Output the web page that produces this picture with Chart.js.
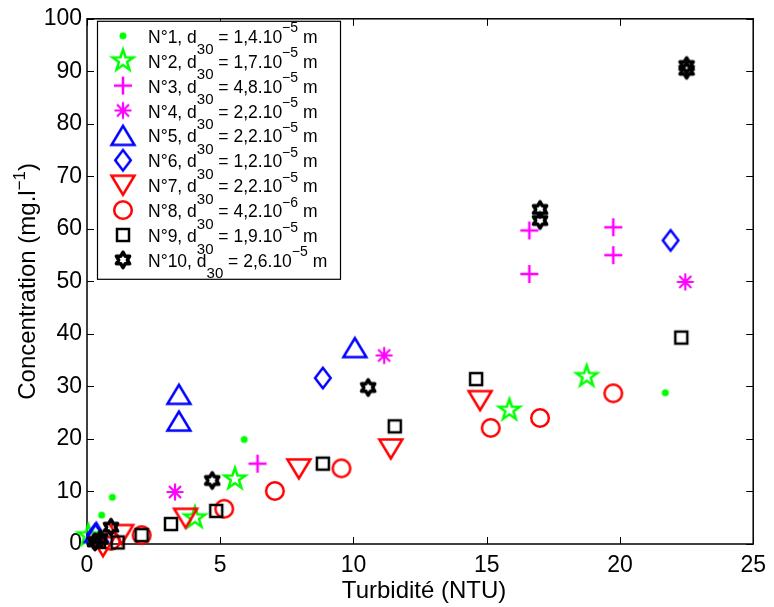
<!DOCTYPE html>
<html><head><meta charset="utf-8">
<script src="https://cdn.jsdelivr.net/npm/chart.js@4.4.0/dist/chart.umd.min.js"></script>
<style>html,body{margin:0;padding:0;background:#fff;}canvas{display:block;}</style>
</head><body>
<canvas id="c" width="774" height="607"></canvas>
<script>
// ---- data ----
const seriesNames = ['N°1','N°2','N°3','N°4','N°5','N°6','N°7','N°8','N°9','N°10'];
const d30Mantissa = ['1,4','1,7','4,8','2,2','2,2','1,2','2,2','4,2','1,9','2,6'];
const d30Exponent = ['−5','−5','−5','−5','−5','−5','−5','−6','−5','−5'];

const n1X = [21.7, 5.9, 0.95, 0.55];
const n1Y = [28.8, 19.9, 8.9, 5.5];
const n2X = [18.75, 15.85, 5.55, 4.05, 0.05];
const n2Y = [31.9, 25.5, 12.4, 5.0, 1.6];
const n3X = [16.6, 16.6, 19.75, 19.75, 6.4];
const n3Y = [59.7, 51.4, 60.3, 55.0, 15.3];
const n4X = [22.45, 11.15, 3.3];
const n4Y = [49.9, 35.9, 9.9];
const n5X = [10.05, 3.45, 3.45, 0.35];
const n5Y = [37.4, 28.5, 23.4, 2.2];
const n6X = [21.9, 8.85, 0.3];
const n6Y = [57.8, 31.6, 1.8];
const n7X = [14.75, 11.4, 7.95, 3.7, 1.3, 0.6];
const n7Y = [27.3, 18.1, 14.3, 4.9, 1.8, -0.5];
const n8X = [19.75, 17.0, 15.15, 9.55, 7.05, 5.15, 2.05, 0.9];
const n8Y = [28.7, 24.0, 22.1, 14.4, 10.1, 6.7, 1.7, 0.6];
const n9X = [22.3, 14.6, 11.55, 8.85, 4.85, 3.15, 2.05, 1.15, 0.45];
const n9Y = [39.3, 31.4, 22.4, 15.3, 6.3, 3.8, 1.7, 0.3, 0.4];
const n10X = [22.5, 22.5, 17.0, 17.0, 10.55, 4.7, 0.9, 0.5, 0.3];
const n10Y = [91.1, 90.2, 63.7, 61.6, 29.8, 12.1, 3.2, 1.0, 0.4];

const xTicks = [0, 5, 10, 15, 20, 25];
const yTicks = [0, 10, 20, 30, 40, 50, 60, 70, 80, 90, 100];
const xTitle = 'Turbidité (NTU)';
const yTitleMain = 'Concentration (mg.l';
const yTitleSup = '−1';
const yTitleEnd = ')';

// ---- markers ----
function mk(size, draw) {
  const c = document.createElement('canvas');
  c.width = size; c.height = size;
  const g = c.getContext('2d');
  g.translate(size / 2, size / 2);
  draw(g);
  return c;
}
function starPath(g, n, R, r, a0) {
  g.beginPath();
  for (let i = 0; i < 2 * n; i++) {
    const rad = i % 2 === 0 ? R : r;
    const a = a0 + i * Math.PI / n;
    const px = rad * Math.cos(a), py = rad * Math.sin(a);
    if (i === 0) g.moveTo(px, py); else g.lineTo(px, py);
  }
  g.closePath();
}
function poly(g, pts) {
  g.beginPath();
  pts.forEach((p, i) => i ? g.lineTo(p[0], p[1]) : g.moveTo(p[0], p[1]));
  g.closePath();
}
const GREEN = '#00ff00', MAG = '#ff00ff', BLUE = '#0000ff', RED = '#ff0000', BLACK = '#000000';
const markers = [
  mk(10, g => { g.fillStyle = GREEN; g.beginPath(); g.arc(0, 0, 3.5, 0, Math.PI * 2); g.fill(); }),
  mk(30, g => { g.strokeStyle = GREEN; g.lineWidth = 2.5; starPath(g, 5, 11, 4.3, -Math.PI / 2); g.stroke(); }),
  mk(24, g => { g.strokeStyle = MAG; g.lineWidth = 2.5; g.beginPath(); g.moveTo(-9, 0); g.lineTo(9, 0); g.moveTo(0, -9); g.lineTo(0, 9); g.stroke(); }),
  mk(24, g => { g.strokeStyle = MAG; g.lineWidth = 2.2; g.beginPath();
    for (let k = 0; k < 4; k++) { const a = k * Math.PI / 4; g.moveTo(-8.5 * Math.cos(a), -8.5 * Math.sin(a)); g.lineTo(8.5 * Math.cos(a), 8.5 * Math.sin(a)); }
    g.stroke(); }),
  mk(30, g => { g.strokeStyle = BLUE; g.lineWidth = 2.5; g.lineJoin = 'miter'; poly(g, [[0, -9.5], [11.5, 9.5], [-11.5, 9.5]]); g.stroke(); }),
  mk(28, g => { g.strokeStyle = BLUE; g.lineWidth = 2.5; poly(g, [[0, -10.3], [7.8, 0], [0, 10.3], [-7.8, 0]]); g.stroke(); }),
  mk(30, g => { g.strokeStyle = RED; g.lineWidth = 2.5; poly(g, [[-11.5, -9.5], [11.5, -9.5], [0, 9.5]]); g.stroke(); }),
  mk(26, g => { g.strokeStyle = RED; g.lineWidth = 2.5; g.beginPath(); g.arc(0, 0, 8.8, 0, Math.PI * 2); g.stroke(); }),
  mk(20, g => { g.strokeStyle = BLACK; g.lineWidth = 2.5; g.strokeRect(-6, -6, 12, 12); }),
  mk(24, g => { g.strokeStyle = BLACK; g.lineWidth = 3.6; g.lineJoin = 'round'; starPath(g, 6, 7.6, 7.6 / Math.sqrt(3), -Math.PI / 2); g.stroke(); })
];

const xs = [n1X, n2X, n3X, n4X, n5X, n6X, n7X, n8X, n9X, n10X];
const ys = [n1Y, n2Y, n3Y, n4Y, n5Y, n6Y, n7Y, n8Y, n9Y, n10Y];

const datasets = seriesNames.map((name, i) => ({
  label: name,
  data: xs[i].map((x, j) => ({ x: x, y: ys[i][j] })),
  pointStyle: markers[i],
  pointRadius: 8,
  showLine: false,
  clip: false,
  order: seriesNames.length - i
}));

const FONT = '"Liberation Sans", Arial, Helvetica, sans-serif';

function richText(ctx, x, y, parts) {
  let cx = x;
  parts.forEach(p => {
    ctx.font = p.size + 'px ' + FONT;
    ctx.fillText(p.t, cx, y + (p.dy || 0));
    cx += ctx.measureText(p.t).width;
  });
  return cx - x;
}
function richWidth(ctx, parts) {
  let w = 0;
  parts.forEach(p => { ctx.font = p.size + 'px ' + FONT; w += ctx.measureText(p.t).width; });
  return w;
}

const framePlugin = {
  id: 'frame',
  beforeDatasetsDraw(chart) {
    const { ctx, chartArea: a, scales } = chart;
    ctx.save();
    ctx.strokeStyle = '#000';
    ctx.lineWidth = 1.5;
    ctx.strokeRect(a.left, a.top, a.right - a.left, a.bottom - a.top);
    ctx.lineWidth = 1;
    ctx.beginPath();
    const tl = 7;
    xTicks.forEach(v => {
      const px = Math.round(scales.x.getPixelForValue(v)) + 0.5;
      ctx.moveTo(px, a.bottom); ctx.lineTo(px, a.bottom - tl);
      ctx.moveTo(px, a.top); ctx.lineTo(px, a.top + tl);
    });
    yTicks.forEach(v => {
      const py = Math.round(scales.y.getPixelForValue(v)) + 0.5;
      ctx.moveTo(a.left, py); ctx.lineTo(a.left + tl, py);
      ctx.moveTo(a.right, py); ctx.lineTo(a.right - tl, py);
    });
    ctx.stroke();
    ctx.restore();
  },
  afterDraw(chart) {
    const { ctx, chartArea: a } = chart;
    ctx.save();
    ctx.fillStyle = '#000';
    ctx.textBaseline = 'alphabetic';
    // x title
    ctx.font = '24px ' + FONT;
    ctx.textAlign = 'center';
    ctx.fillText(xTitle, (a.left + a.right) / 2 + 4, 598);
    // y title
    ctx.textAlign = 'left';
    const yParts = [
      { t: yTitleMain, size: 24 },
      { t: yTitleSup, size: 17, dy: -10 },
      { t: yTitleEnd, size: 24 }
    ];
    const w = richWidth(ctx, yParts);
    ctx.translate(35, (a.top + a.bottom) / 2);
    ctx.rotate(-Math.PI / 2);
    richText(ctx, -w / 2, 0, yParts);
    ctx.restore();

    // legend
    ctx.save();
    const bl = a.left + 10, bt = a.top + 2, bw = 243, bh = 258;
    ctx.fillStyle = '#fff';
    ctx.fillRect(bl, bt, bw, bh);
    ctx.strokeStyle = '#000';
    ctx.lineWidth = 1.2;
    ctx.strokeRect(bl + 0.5, bt + 0.5, bw, bh);
    ctx.fillStyle = '#000';
    ctx.textAlign = 'left';
    ctx.textBaseline = 'alphabetic';
    seriesNames.forEach((name, i) => {
      const cy = bt + 15 + i * 24.9;
      const m = markers[i];
      ctx.drawImage(m, bl + 26 - m.width / 2, cy - m.height / 2);
      richText(ctx, bl + 51, cy + 7, [
        { t: name + ', d', size: 17.5 },
        { t: '30', size: 15, dy: 11.5 },
        { t: ' = ' + d30Mantissa[i] + '.10', size: 17.5 },
        { t: d30Exponent[i], size: 14, dy: -10.5 },
        { t: ' m', size: 17.5 }
      ]);
    });
    ctx.restore();
  }
};

new Chart(document.getElementById('c'), {
  type: 'scatter',
  data: { datasets: datasets },
  options: {
    responsive: false,
    animation: false,
    devicePixelRatio: 1,
    layout: { padding: { top: 17, right: 16, bottom: 0, left: 0 } },
    plugins: { legend: { display: false }, tooltip: { enabled: false } },
    scales: {
      x: {
        type: 'linear', min: 0, max: 25,
        afterBuildTicks: s => { s.ticks = xTicks.map(v => ({ value: v })); },
        afterFit: s => { s.height = 63; },
        grid: { display: false, drawTicks: false },
        border: { display: false },
        ticks: { color: '#000', padding: 8, font: { family: FONT, size: 23 } }
      },
      y: {
        type: 'linear', min: 0, max: 100,
        afterBuildTicks: s => { s.ticks = yTicks.map(v => ({ value: v })); },
        afterFit: s => { s.width = 87; },
        grid: { display: false, drawTicks: false },
        border: { display: false },
        ticks: { color: '#000', padding: 5, font: { family: FONT, size: 23 } }
      }
    }
  },
  plugins: [framePlugin]
});
</script>
</body></html>
